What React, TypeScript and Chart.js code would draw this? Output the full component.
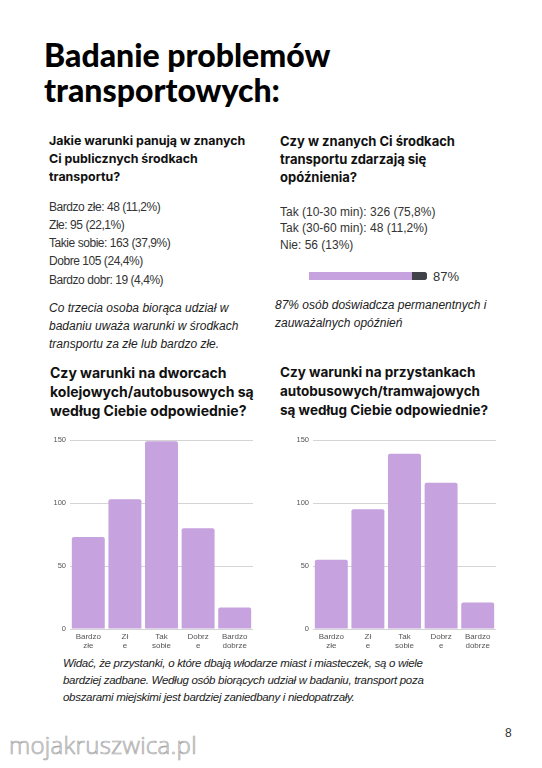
import React, { useEffect, useRef } from "react";
import { Chart, registerables } from "chart.js";

Chart.register(...registerables);

// ---- data ----
const categories: string[][] = [
  ["Bardzo", "złe"],
  ["Zł", "e"],
  ["Tak", "sobie"],
  ["Dobrz", "e"],
  ["Bardzo", "dobrze"],
];
const stationValues = [73, 103, 149, 80, 17];
const stopValues = [55, 95, 139, 116, 21];
const yTickValues = [0, 50, 100, 150];
const delayLabels = ["Opóźnienia"];
const delayYes = [87];
const delayRest = [13];

const PURPLE = "#c6a2de";
const DARK = "#3f4249";
const BODY_FONT = "'Liberation Sans', Arial, sans-serif";
const HEAD_FONT = "Inter, 'Liberation Sans', sans-serif";

function BarChart({ values, left, top }: { values: number[]; left: number; top: number }) {
  const ref = useRef<HTMLCanvasElement | null>(null);
  useEffect(() => {
    if (!ref.current) return;
    const chart = new Chart(ref.current, {
      type: "bar",
      data: {
        labels: categories,
        datasets: [
          {
            data: values,
            backgroundColor: PURPLE,
            borderRadius: { topLeft: 2, topRight: 2, bottomLeft: 0, bottomRight: 0 },
            borderSkipped: "bottom",
            barPercentage: 0.9,
            categoryPercentage: 1,
          },
        ],
      },
      options: {
        animation: false,
        responsive: false,
        maintainAspectRatio: false,
        layout: { padding: { top: 10, right: 2, left: 0, bottom: 0 } },
        plugins: { legend: { display: false }, tooltip: { enabled: false } },
        scales: {
          x: {
            grid: { display: false, drawTicks: false },
            border: { display: false },
            ticks: {
              autoSkip: false,
              maxRotation: 0,
              color: "#555",
              padding: 3,
              font: { size: 8, family: BODY_FONT, lineHeight: 1.15 },
            },
            afterFit: (s: any) => {
              s.height = 26;
            },
          },
          y: {
            min: 0,
            max: yTickValues[yTickValues.length - 1],
            afterBuildTicks: (s: any) => {
              s.ticks = yTickValues.map((v) => ({ value: v }));
            },
            ticks: { color: "#555", padding: 4, font: { size: 7.5, family: BODY_FONT } },
            grid: { color: "#d4d4d4", drawTicks: false, lineWidth: 1 },
            border: { display: false },
            afterFit: (s: any) => {
              s.width = 30;
            },
          },
        },
      },
    });
    return () => chart.destroy();
  }, [values]);
  return (
    <canvas
      ref={ref}
      width={215}
      height={225}
      style={{ position: "absolute", left, top, width: 215, height: 225 }}
    />
  );
}

function ProgressBar({ left, top }: { left: number; top: number }) {
  const ref = useRef<HTMLCanvasElement | null>(null);
  useEffect(() => {
    if (!ref.current) return;
    const chart = new Chart(ref.current, {
      type: "bar",
      data: {
        labels: delayLabels,
        datasets: [
          {
            data: delayYes,
            backgroundColor: PURPLE,
            borderRadius: 4,
            borderSkipped: "end",
            barPercentage: 1,
            categoryPercentage: 1,
          },
          {
            data: delayRest,
            backgroundColor: DARK,
            borderRadius: 4,
            borderSkipped: "start",
            barPercentage: 1,
            categoryPercentage: 1,
          },
        ],
      },
      options: {
        indexAxis: "y",
        animation: false,
        responsive: false,
        maintainAspectRatio: false,
        layout: { padding: 0 },
        plugins: { legend: { display: false }, tooltip: { enabled: false } },
        scales: {
          x: { display: false, stacked: true, min: 0, max: 100 },
          y: { display: false, stacked: true },
        },
      },
    });
    return () => chart.destroy();
  }, []);
  return (
    <canvas
      ref={ref}
      width={118}
      height={8}
      style={{ position: "absolute", left, top, width: 118, height: 8 }}
    />
  );
}

const abs = (left: number, top: number, extra: React.CSSProperties = {}): React.CSSProperties => ({
  position: "absolute",
  left,
  top,
  margin: 0,
  whiteSpace: "nowrap",
  ...extra,
});

export default function App() {
  useEffect(() => {
    document.body.style.margin = "0";
    document.body.style.background = "#fff";
  }, []);

  const head: React.CSSProperties = {
    fontFamily: HEAD_FONT,
    fontWeight: 700,
    fontSize: 12.4,
    lineHeight: "18px",
    color: "#111",
  };
  const head2: React.CSSProperties = { ...head, fontSize: 14, lineHeight: "19px" };
  const body: React.CSSProperties = {
    fontFamily: BODY_FONT,
    fontSize: 12,
    letterSpacing: "-0.45px",
    lineHeight: "18.3px",
    color: "#333",
  };
  const ital: React.CSSProperties = {
    fontFamily: BODY_FONT,
    fontSize: 12,
    fontStyle: "italic",
    color: "#222",
    lineHeight: "18.2px",
  };

  return (
    <div
      style={{
        position: "absolute",
        left: 0,
        top: 0,
        width: 542,
        height: 768,
        background: "#fff",
        overflow: "hidden",
      }}
    >
      <div
        style={abs(44, 37, {
          fontFamily: "Lato, sans-serif",
          fontWeight: 900,
          fontSize: 32,
          lineHeight: "35px",
          color: "#000",
        })}
      >
        Badanie problemów
        <br />
        transportowych:
      </div>

      <div style={abs(49, 132, head)}>
        Jakie warunki panują w znanych
        <br />
        Ci publicznych środkach
        <br />
        transportu?
      </div>
      <div style={abs(49, 197.5, body)}>
        Bardzo złe: 48 (11,2%)
        <br />
        Złe: 95 (22,1%)
        <br />
        Takie sobie: 163 (37,9%)
        <br />
        Dobre 105 (24,4%)
        <br />
        Bardzo dobr: 19 (4,4%)
      </div>
      <div style={abs(49, 298.5, ital)}>
        Co trzecia osoba biorąca udział w
        <br />
        badaniu uważa warunki w środkach
        <br />
        transportu za złe lub bardzo złe.
      </div>

      <div style={abs(280, 132, { ...head, fontSize: 13 })}>
        Czy w znanych Ci środkach
        <br />
        transportu zdarzają się
        <br />
        opóźnienia?
      </div>
      <div style={abs(280, 203.5, { ...body, letterSpacing: "0px", lineHeight: "16.5px" })}>
        Tak (10-30 min): 326 (75,8%)
        <br />
        Tak (30-60 min): 48 (11,2%)
        <br />
        Nie: 56 (13%)
      </div>
      <ProgressBar left={309} top={272} />
      <div style={abs(433, 269, { fontFamily: BODY_FONT, fontSize: 13, lineHeight: "16px", color: "#333" })}>
        87%
      </div>
      <div style={abs(275, 296, { ...ital, lineHeight: "18px" })}>
        87% osób doświadcza permanentnych i
        <br />
        zauważalnych opóźnień
      </div>

      <div style={abs(50, 362.5, head2)}>
        Czy warunki na dworcach
        <br />
        kolejowych/autobusowych są
        <br />
        według Ciebie odpowiednie?
      </div>
      <div style={abs(280, 362.5, { ...head2, fontSize: 13.5 })}>
        Czy warunki na przystankach
        <br />
        autobusowych/tramwajowych
        <br />
        są według Ciebie odpowiednie?
      </div>

      <BarChart values={stationValues} left={40} top={430} />
      <BarChart values={stopValues} left={283} top={430} />

      <div style={abs(63, 654.5, { ...ital, fontSize: 11.5, letterSpacing: "-0.3px", lineHeight: "17px" })}>
        Widać, że przystanki, o które dbają włodarze miast i miasteczek, są o wiele
        <br />
        bardziej zadbane. Według osób biorących udział w badaniu, transport poza
        <br />
        obszarami miejskimi jest bardziej zaniedbany i niedopatrzały.
      </div>

      <div style={abs(505, 725, { fontFamily: BODY_FONT, fontSize: 12, lineHeight: "16px", color: "#333" })}>
        8
      </div>

      <div
        style={abs(9, 730, {
          fontFamily: "'Open Sans', sans-serif",
          fontWeight: 300,
          fontSize: 24,
          lineHeight: "30px",
          color: "#f2f2f2",
          WebkitTextStroke: "0.7px #a8a8a8",
          letterSpacing: "0.3px",
        } as React.CSSProperties)}
      >
        mojakruszwica.pl
      </div>
    </div>
  );
}
